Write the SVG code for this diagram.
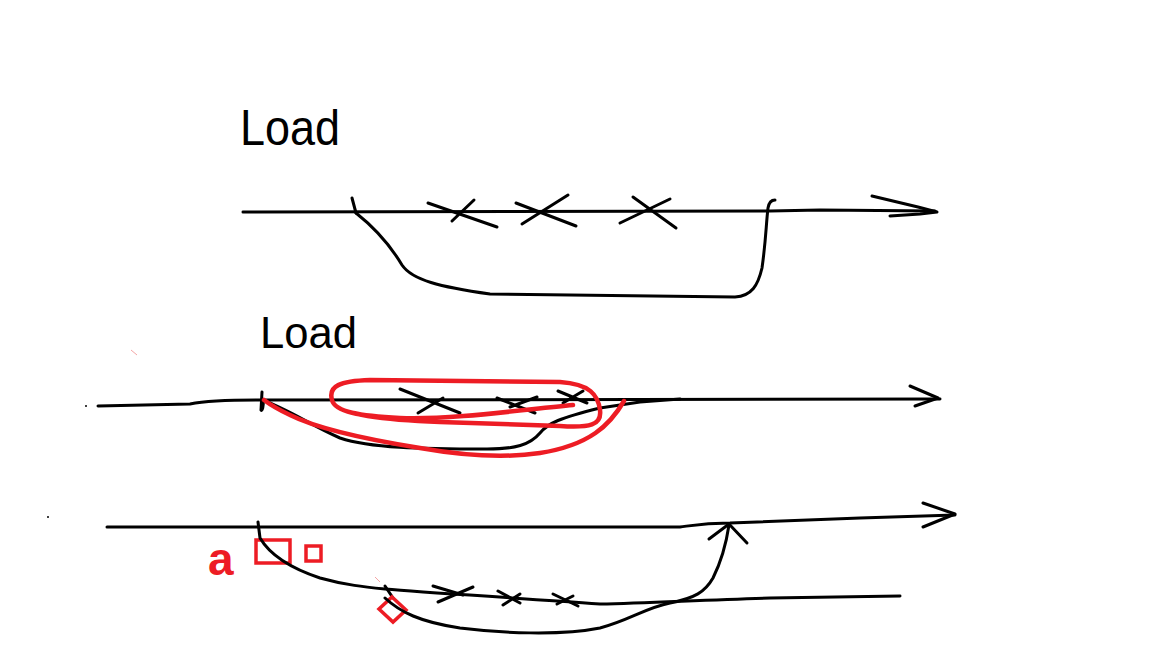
<svg xmlns="http://www.w3.org/2000/svg" width="1152" height="648" viewBox="0 0 1152 648">
<style>
.ink{fill:none;stroke:#000;stroke-width:3;stroke-linecap:round;stroke-linejoin:round}
.red{fill:none;stroke:#ed1c24;stroke-width:4.5;stroke-linecap:round;stroke-linejoin:round}
.redbox{fill:none;stroke:#ed1c24;stroke-width:3.5}
.faint{stroke:#f08080;stroke-width:1;opacity:0.7}
.lbl{font-family:"Liberation Sans",Arial,sans-serif;fill:#000}
</style>
<rect width="1152" height="648" fill="#fff"/>

<g id="panel1">
  <text class="lbl" x="240" y="145" font-size="50" textLength="100" lengthAdjust="spacingAndGlyphs">Load</text>
  <path class="ink" d="M352,198 L356,213"/>
  <path class="ink" d="M428,203 L497,227 M474,200 L452,221"/>
  <path class="ink" d="M516,203 L576,226 M568,195 L522,224"/>
  <path class="ink" d="M633,197 L676,228 M670,199 L620,223"/>
</g>

<g id="panel2">
  <text class="lbl" x="260" y="348" font-size="44" textLength="97" lengthAdjust="spacingAndGlyphs">Load</text>
  <circle cx="86" cy="406" r="1" fill="#000"/>
  <line class="faint" x1="131" y1="350" x2="137" y2="355"/>
  <path class="ink" d="M262,392 L261,410 C262,412 264,406 263,400"/>
  <path class="ink" d="M400,389 L460,413 M443,398 L418,413"/>
  <path class="ink" d="M497,398 L535,413 M537,397 L510,407"/>
  <path class="ink" d="M558,391 L587,403 M583,391 L563,403"/>
</g>

<g id="panel3">
  <circle cx="48" cy="517" r="1" fill="#000"/>
  <text x="208" y="575" font-size="46" font-family="Liberation Sans, Arial, sans-serif" fill="#ed1c24" font-weight="bold">a</text>
  <rect class="redbox" x="256" y="540" width="34" height="23"/>
  <rect class="redbox" x="306" y="546" width="15" height="15"/>
  <line class="faint" x1="375" y1="577" x2="380" y2="582"/>
  <path class="ink" d="M385,586 L393,598"/>
  <path class="ink" d="M433,586 L463,595 M473,587 L438,602"/>
  <path class="ink" d="M498,591 L520,603 M520,594 L503,605"/>
  <path class="ink" d="M553,594 L578,606 M573,596 L557,604"/>
  <path class="redbox" d="M392,597 L406,610 L393,622 L379,609 Z"/>
</g>

<g id="connectors">
  <path class="ink" d="M243,212 L770,211 L820,210 L935,211"/>
  <path class="ink" d="M872,196 L918,207 L937,212 L920,214 L890,216"/>
  <path class="ink" d="M356,213 C375,228 390,245 402,265 C412,280 440,287 490,294 L735,297 C752,296 758,285 762,268 C766,240 766,225 768,208 C769,202 772,200 775,200"/>

  <path class="ink" d="M98,406 L190,404 C205,401 220,400 258,400 L940,399"/>
  <path class="ink" d="M910,386 L938,398 L915,406"/>
  <path class="ink" d="M262,400 C290,410 310,425 340,438 C370,448 420,449 487,449 C515,449 530,445 540,433 C548,423 560,418 600,408 L640,402 L680,399"/>
  <path class="red" d="M573,405 C520,410 450,420 400,418 C360,416 335,412 332,400 C328,386 340,381 370,380 L560,382 C590,384 598,395 600,410 C602,425 590,428 560,426 L440,422 C380,420 345,415 335,405"/>
  <path class="red" d="M624,401 C610,425 590,445 540,453 C500,459 460,455 420,448 C370,440 320,430 290,415 C275,408 268,403 264,400"/>

  <path class="ink" d="M107,527 L680,527 C695,525 705,523 730,523 L860,518 L955,515"/>
  <path class="ink" d="M923,503 L955,514 L923,527"/>
  <path class="ink" d="M258,522 L260,538 C270,555 290,568 320,578 C345,585 365,587 385,589 C430,593 520,598 600,604 C650,603 700,600 770,598 L900,596"/>
  <path class="ink" d="M385,598 C400,612 420,622 460,628 C500,633 560,636 600,628 C630,620 645,608 670,603 C695,598 705,592 713,578 C722,560 726,545 729,525"/>
  <path class="ink" d="M709,539 L729,524 L747,543"/>
</g>
</svg>
